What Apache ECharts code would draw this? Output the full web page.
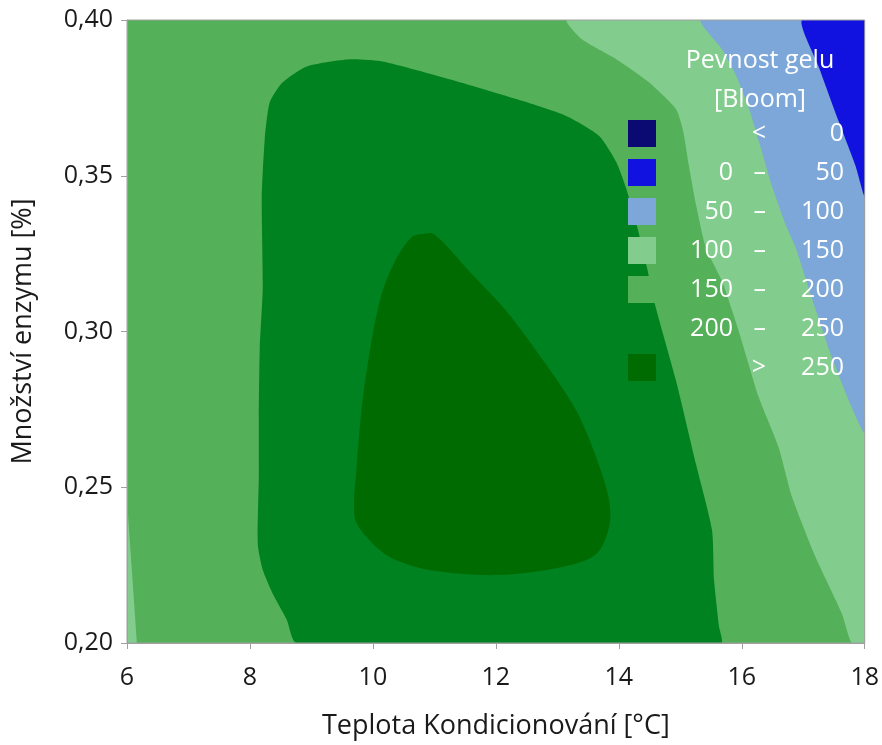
<!DOCTYPE html>
<html>
<head>
<meta charset="utf-8">
<script src="https://cdn.jsdelivr.net/npm/echarts@6/dist/echarts.min.js"></script>
<style>
  html, body { margin: 0; padding: 0; background: #ffffff; }
  #chart { width: 882px; height: 745px; }
</style>
</head>
<body>
<div id="chart"></div>
<script>
// Axis ranges and ticks
const tempTicks = [6, 8, 10, 12, 14, 16, 18];
const enzymeTicks = [0.20, 0.25, 0.30, 0.35, 0.40];

// Gel strength classes [Bloom]
const levelNames = ['< 0', '0 – 50', '50 – 100', '100 – 150', '150 – 200', '200 – 250', '> 250'];
const levelLow  = [null, 0, 50, 100, 150, 200, 250];
const levelHigh = [0, 50, 100, 150, 200, 250, null];
const levelColors = ['#0a0a72', '#1212e0', '#7ca7d8', '#82cd8e', '#55b05a', '#008220', '#006b00'];

// Contour outlines as [temperature °C, enzyme %] points
const plane = [[6, 0.20], [18, 0.20], [18, 0.40], [6, 0.40]];

// 150 Bloom isoline, from top edge to bottom edge
const contour150 = [
  [13.16, 0.400], [13.40, 0.3938], [13.96, 0.3874], [14.49, 0.3800], [14.93, 0.3714],
  [15.05, 0.3640], [15.14, 0.3532], [15.26, 0.3404], [15.42, 0.3267], [15.68, 0.3161],
  [15.95, 0.3002], [16.28, 0.2787], [16.60, 0.2628], [16.82, 0.2468], [17.20, 0.2276],
  [17.63, 0.2094], [17.79, 0.200]
];
// small 100–150 patch along the left edge
const contour150Left = [[6.0, 0.2458], [6.08, 0.223], [6.16, 0.200], [6.0, 0.200]];

// 100 Bloom isoline, from top edge to right edge
const contour100 = [
  [15.34, 0.400], [15.68, 0.3906], [15.91, 0.3820], [16.12, 0.3714], [16.28, 0.3609],
  [16.49, 0.3468], [16.72, 0.3340], [16.88, 0.3267], [17.14, 0.3107], [17.47, 0.2915],
  [17.79, 0.2756], [18.00, 0.2676]
];

// 50 Bloom isoline, from top edge to right edge
const contour50 = [
  [16.98, 0.400], [17.25, 0.3851], [17.58, 0.3673], [17.85, 0.3532], [18.00, 0.3436]
];

// 200 Bloom isoline, closed along the bottom edge
const contour200 = [
  [8.761, 0.200], [8.598, 0.2075], [8.371, 0.2158], [8.208, 0.2235], [8.127, 0.2318],
  [8.144, 0.2532], [8.144, 0.2724], [8.160, 0.2947], [8.208, 0.3139], [8.192, 0.3427],
  [8.241, 0.3618], [8.322, 0.3736], [8.533, 0.3800], [8.923, 0.3851], [9.621, 0.3874],
  [10.157, 0.3867], [11.245, 0.3810], [12.333, 0.3746], [13.145, 0.3692], [13.681, 0.3628],
  [13.957, 0.3545], [14.120, 0.3459], [14.298, 0.3337], [14.461, 0.3203], [14.574, 0.3097],
  [14.931, 0.2842], [15.256, 0.2574], [15.516, 0.2363], [15.549, 0.2203], [15.630, 0.2053],
  [15.662, 0.200]
];

// 250 Bloom isoline, closed
const contour250 = [
  [10.872, 0.3315], [10.644, 0.3305], [10.385, 0.3235], [10.157, 0.3129], [9.995, 0.2989],
  [9.832, 0.2778], [9.735, 0.2564], [9.703, 0.2404], [9.897, 0.2340], [10.271, 0.2276],
  [10.920, 0.2234], [12.008, 0.2218], [13.080, 0.2244], [13.632, 0.2285], [13.843, 0.2372],
  [13.843, 0.2458], [13.632, 0.2596], [13.308, 0.2746], [12.820, 0.2893], [12.171, 0.3066],
  [11.570, 0.3193], [11.132, 0.3289], [10.969, 0.3315]
];

// Filled regions, painted from back to front
const regions = [
  { level: 4, points: plane, smooth: 0 },
  { level: 3, points: contour150.concat([[18, 0.20], [18, 0.40]]), smooth: 0.2 },
  { level: 3, points: contour150Left, smooth: 0 },
  { level: 2, points: contour100.concat([[18, 0.40]]), smooth: 0.2 },
  { level: 1, points: contour50.concat([[18, 0.40]]), smooth: 0.2 },
  { level: 5, points: contour200, smooth: 0.2 },
  { level: 6, points: contour250, smooth: 0.3 }
];

const FONT = 'Open Sans';
const TEXT = '#1a1a1a';

function polygonRenderer(points, smooth) {
  return function (params, api) {
    if (params.dataIndex !== 0) return null;
    const pts = points.map(function (p) { return api.coord(p); });
    return {
      type: 'polygon',
      shape: { points: pts, smooth: smooth },
      style: { fill: api.visual('color') }
    };
  };
}

const series = [];
// one empty series per class so every class shows in the legend
levelNames.forEach(function (name, i) {
  series.push({
    type: 'custom',
    name: name,
    coordinateSystem: 'cartesian2d',
    itemStyle: { color: levelColors[i] },
    data: [],
    renderItem: function () { return null; }
  });
});
regions.forEach(function (r) {
  series.push({
    type: 'custom',
    name: levelNames[r.level],
    coordinateSystem: 'cartesian2d',
    itemStyle: { color: levelColors[r.level] },
    silent: true,
    clip: true,
    encode: { x: 0, y: 1 },
    data: r.points,
    renderItem: polygonRenderer(r.points, r.smooth)
  });
});

// legend rows: "low – high", right-aligned number columns
function legendText(name) {
  const i = levelNames.indexOf(name);
  if (levelLow[i] === null) return '{lo|}{op|<}{hi|' + levelHigh[i] + '}';
  if (levelHigh[i] === null) return '{lo|}{op|>}{hi|' + levelLow[i] + '}';
  return '{lo|' + levelLow[i] + '}{op|–}{hi|' + levelHigh[i] + '}';
}
const LEG_FS = 25;
function legendCol(w) {
  return { width: w, align: 'right', fontSize: LEG_FS, color: '#ffffff', fontFamily: FONT, lineHeight: 27 };
}

const chart = echarts.init(document.getElementById('chart'), null, { renderer: 'canvas' });
chart.setOption({
  animation: false,
  backgroundColor: '#ffffff',
  textStyle: { fontFamily: FONT },
  grid: {
    left: 127, right: 16, top: 20, bottom: 99,
    show: true, borderColor: '#a0a0a0', borderWidth: 1, backgroundColor: 'transparent', z: 5
  },
  xAxis: {
    type: 'value',
    min: tempTicks[0], max: tempTicks[tempTicks.length - 1], interval: 2,
    name: 'Teplota Kondicionování [°C]',
    nameLocation: 'middle', nameGap: 70,
    nameTextStyle: { fontFamily: FONT, fontSize: 27, color: TEXT },
    axisLine: { show: true, lineStyle: { color: '#a0a0a0', width: 1 } },
    axisTick: { show: true, length: 6, lineStyle: { color: '#a0a0a0' } },
    axisLabel: { fontFamily: FONT, fontSize: 25, color: TEXT, margin: 22 },
    splitLine: { show: false },
    z: 10
  },
  yAxis: {
    type: 'value',
    min: enzymeTicks[0], max: enzymeTicks[enzymeTicks.length - 1], interval: 0.05,
    name: 'Množství enzymu [%]',
    nameLocation: 'middle', nameGap: 90,
    nameTextStyle: { fontFamily: FONT, fontSize: 27, color: TEXT },
    axisLine: { show: true, lineStyle: { color: '#a0a0a0', width: 1 } },
    axisTick: { show: true, length: 6, lineStyle: { color: '#a0a0a0' } },
    axisLabel: {
      fontFamily: FONT, fontSize: 25, color: TEXT, margin: 14,
      formatter: function (v) { return v.toFixed(2).replace('.', ','); }
    },
    splitLine: { show: false },
    z: 10
  },
  legend: {
    data: levelNames,
    orient: 'vertical',
    left: 628, top: 120,
    itemWidth: 28, itemHeight: 27, itemGap: 12,
    icon: 'rect',
    selectedMode: false,
    padding: 0,
    z: 20,
    formatter: legendText,
    textStyle: {
      fontFamily: FONT, fontSize: LEG_FS, color: '#ffffff',
      rich: { lo: legendCol(72), op: legendCol(33), hi: legendCol(78) }
    }
  },
  graphic: [
    {
      type: 'text', x: 760, y: 61, z: 20,
      style: { text: 'Pevnost gelu', fontFamily: FONT, fontSize: LEG_FS, fill: '#ffffff', align: 'center', verticalAlign: 'middle' }
    },
    {
      type: 'text', x: 760, y: 100, z: 20,
      style: { text: '[Bloom]', fontFamily: FONT, fontSize: LEG_FS, fill: '#ffffff', align: 'center', verticalAlign: 'middle' }
    }
  ],
  series: series
});
</script>
</body>
</html>
